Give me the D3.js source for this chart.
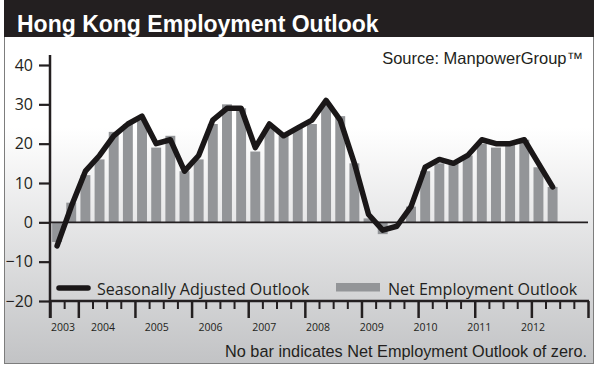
<!DOCTYPE html>
<html>
<head>
<meta charset="utf-8">
<script src="https://cdn.jsdelivr.net/npm/d3@7"></script>
<style>
  body { margin: 0; background: #fff; }
  svg { display: block; }
</style>
</head>
<body>
<div id="vis"></div>
<script>
// Hong Kong Employment Outlook, quarterly survey 2003 Q3 - 2012 Q4 axis

const FRAME_WIDTH = 600;
const FRAME_HEIGHT = 369;

// quarter categories on the axis (data stops at 2012 Q2)
const quarters = [
  "2003Q3", "2003Q4",
  "2004Q1", "2004Q2", "2004Q3", "2004Q4",
  "2005Q1", "2005Q2", "2005Q3", "2005Q4",
  "2006Q1", "2006Q2", "2006Q3", "2006Q4",
  "2007Q1", "2007Q2", "2007Q3", "2007Q4",
  "2008Q1", "2008Q2", "2008Q3", "2008Q4",
  "2009Q1", "2009Q2", "2009Q3", "2009Q4",
  "2010Q1", "2010Q2", "2010Q3", "2010Q4",
  "2011Q1", "2011Q2", "2011Q3", "2011Q4",
  "2012Q1", "2012Q2", "2012Q3", "2012Q4"
];

// Net Employment Outlook (bars)
const netOutlook = [-5, 5, 12, 16, 23, 25, 26, 19, 22, 13, 16, 25, 30, 29, 18, 24,
                    22, 24, 25, 30, 27, 15, 1, -3, 0, 4, 13, 15, 15, 17, 20, 19,
                    20, 21, 14, 9];

// Seasonally Adjusted Outlook (line)
const seasonal = [-6, 4, 13, 17, 22, 25, 27, 20, 21, 13, 17, 26, 29, 29, 19, 25,
                  22, 24, 26, 31, 26, 15, 2, -2, -1, 4, 14, 16, 15, 17, 21, 20,
                  20, 21, 15, 9];

const yTicks = [-20, -10, 0, 10, 20, 30, 40];
const years = ["2003", "2004", "2005", "2006", "2007", "2008", "2009", "2010", "2011", "2012"];

const barData = quarters.slice(0, netOutlook.length).map((q, i) => ({q: q, v: netOutlook[i]}));
const lineData = quarters.slice(0, seasonal.length).map((q, i) => ({q: q, v: seasonal[i]}));

const svg = d3.select("#vis")
  .append("svg")
    .attr("width", FRAME_WIDTH)
    .attr("height", FRAME_HEIGHT);

// background gradient
const grad = svg.append("defs").append("linearGradient")
    .attr("id", "bg")
    .attr("x1", 0).attr("y1", 0).attr("x2", 0).attr("y2", 1);
grad.append("stop").attr("offset", "0%").attr("stop-color", "#ffffff");
grad.append("stop").attr("offset", "35%").attr("stop-color", "#ffffff");
grad.append("stop").attr("offset", "100%").attr("stop-color", "#c2c3c5");

svg.append("rect")
    .attr("x", 4.5).attr("y", 0.5)
    .attr("width", 589).attr("height", 363)
    .attr("fill", "url(#bg)")
    .attr("stroke", "#7d7d7d");

svg.append("rect")
    .attr("x", 4).attr("y", 0)
    .attr("width", 590).attr("height", 37)
    .attr("fill", "#231f20");

svg.append("text")
    .attr("x", 17).attr("y", 32)
    .attr("font-family", "'Liberation Sans', Arial, sans-serif")
    .attr("font-weight", "bold")
    .attr("font-size", "23px")
    .attr("fill", "#fff")
    .text("Hong Kong Employment Outlook");

svg.append("text")
    .attr("x", 583).attr("y", 64)
    .attr("text-anchor", "end")
    .attr("font-family", "'Liberation Sans', Arial, sans-serif")
    .attr("font-size", "16.5px")
    .attr("fill", "#231f20")
    .text("Source: ManpowerGroup\u2122");

// scales
const X_SCALE = d3.scaleBand()
    .domain(quarters)
    .range([50, 588])
    .paddingInner(0.3)
    .paddingOuter(0.15);

// quarter boundaries for the tick marks
const Q_SCALE = d3.scaleLinear()
    .domain([0, quarters.length])
    .range([50, 588]);

const Y_SCALE = d3.scaleLinear()
    .domain([-20, 40])
    .range([301, 65]);

// bars
svg.append("g")
  .selectAll("rect")
  .data(barData.filter(d => d.v !== 0))
  .enter()
  .append("rect")
    .attr("x", d => X_SCALE(d.q))
    .attr("width", X_SCALE.bandwidth())
    .attr("y", d => Y_SCALE(Math.max(0, d.v)))
    .attr("height", d => Math.abs(Y_SCALE(d.v) - Y_SCALE(0)))
    .attr("fill", "#939598");

// zero line
svg.append("line")
    .attr("x1", 50).attr("x2", 588)
    .attr("y1", Y_SCALE(0)).attr("y2", Y_SCALE(0))
    .attr("stroke", "#231f20")
    .attr("stroke-width", 1.6);

// y axis
const yAxis = svg.append("g")
    .attr("transform", "translate(50,0)")
    .call(d3.axisLeft(Y_SCALE).tickValues(yTicks).tickSize(11).tickPadding(6));
yAxis.select(".domain").remove();
yAxis.selectAll(".tick line").attr("stroke", "#231f20").attr("stroke-width", 2.2);
yAxis.selectAll(".tick text")
    .attr("font-family", "'Open Sans', sans-serif")
    .attr("font-size", "16px")
    .attr("fill", "#231f20");

svg.append("line")
    .attr("x1", 50).attr("x2", 50)
    .attr("y1", 55).attr("y2", 318)
    .attr("stroke", "#231f20")
    .attr("stroke-width", 2.5);

// x axis: minor quarter ticks and major year ticks
const majorIdx = [0];
quarters.forEach((q, i) => { if (i > 0 && q.endsWith("Q1")) majorIdx.push(i); });
majorIdx.push(quarters.length);
const minorIdx = d3.range(quarters.length + 1).filter(i => !majorIdx.includes(i));

const xMinor = svg.append("g")
    .attr("transform", "translate(0," + Y_SCALE(-20) + ")")
    .call(d3.axisBottom(Q_SCALE).tickValues(minorIdx).tickSize(8).tickFormat(""));
xMinor.select(".domain").remove();
xMinor.selectAll(".tick line").attr("stroke", "#231f20").attr("stroke-width", 2);

const xMajor = svg.append("g")
    .attr("transform", "translate(0," + Y_SCALE(-20) + ")")
    .call(d3.axisBottom(Q_SCALE).tickValues(majorIdx).tickSize(17).tickFormat(""));
xMajor.select(".domain").remove();
xMajor.selectAll(".tick line").attr("stroke", "#231f20").attr("stroke-width", 2.5);

svg.append("line")
    .attr("x1", 49).attr("x2", 589)
    .attr("y1", Y_SCALE(-20)).attr("y2", Y_SCALE(-20))
    .attr("stroke", "#231f20")
    .attr("stroke-width", 2.5);

// year labels sit a little left of centre in the original
const LABEL_X = d3.scaleLinear().domain([2003, 2004, 2012]).range([63, 103, 533]);
svg.append("g")
  .selectAll("text")
  .data(years)
  .enter()
  .append("text")
    .attr("x", d => LABEL_X(+d))
    .attr("y", 331)
    .attr("text-anchor", "middle")
    .attr("font-family", "'Open Sans', sans-serif")
    .attr("font-size", "10.5px")
    .attr("fill", "#231f20")
    .text(d => d);

// seasonally adjusted line
svg.append("path")
    .datum(lineData)
    .attr("fill", "none")
    .attr("stroke", "#1a1718")
    .attr("stroke-width", 5.5)
    .attr("stroke-linejoin", "round")
    .attr("stroke-linecap", "round")
    .attr("d", d3.line()
        .x(d => X_SCALE(d.q) + X_SCALE.bandwidth() / 2)
        .y(d => Y_SCALE(d.v)));

// legend
svg.append("line")
    .attr("x1", 59).attr("x2", 88)
    .attr("y1", 288).attr("y2", 288)
    .attr("stroke", "#1a1718")
    .attr("stroke-width", 5.5)
    .attr("stroke-linecap", "round");

svg.append("text")
    .attr("x", 97).attr("y", 295)
    .attr("font-family", "'Open Sans', sans-serif")
    .attr("font-size", "16px")
    .attr("fill", "#231f20")
    .text("Seasonally Adjusted Outlook");

svg.append("rect")
    .attr("x", 336).attr("y", 283)
    .attr("width", 44).attr("height", 8.5)
    .attr("fill", "#939598");

svg.append("text")
    .attr("x", 388).attr("y", 295)
    .attr("font-family", "'Open Sans', sans-serif")
    .attr("font-size", "16px")
    .attr("fill", "#231f20")
    .text("Net Employment Outlook");

svg.append("text")
    .attr("x", 587).attr("y", 357)
    .attr("text-anchor", "end")
    .attr("font-family", "'Liberation Sans', Arial, sans-serif")
    .attr("font-size", "16.3px")
    .attr("fill", "#231f20")
    .text("No bar indicates Net Employment Outlook of zero.");
</script>
</body>
</html>
